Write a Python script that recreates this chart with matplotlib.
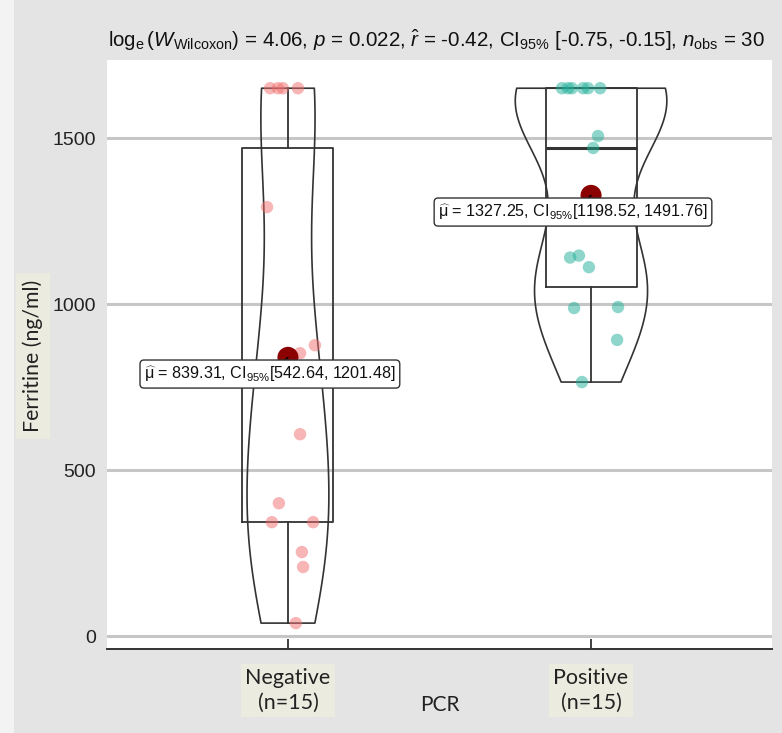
#!/usr/bin/env python3
# -*- coding: utf-8 -*-
"""
Ferritine by PCR result: violin + box + jittered points, ggstatsplot style.
"""

import matplotlib
matplotlib.use("Agg")
import matplotlib.pyplot as plt
import matplotlib.patches as mpatches
import numpy

# data
groups = ["Negative", "Positive"]
group_labels = ["Negative\n(n=15)", "Positive\n(n=15)"]
ferritine_negative = [1650, 1650, 1650, 1650, 1292, 876, 852, 776, 608,
                      400, 343, 343, 253, 208, 39]
ferritine_positive = [1650, 1650, 1650, 1650, 1650, 1650, 1506, 1470, 1146,
                      1140, 1111, 991, 988, 892, 765]
# horizontal jitter of each point (x units), same order as the values
jitter_negative = [-0.059, -0.033, -0.017, 0.033, -0.069, 0.089, 0.040, 0.0,
                   0.040, -0.030, -0.053, 0.083, 0.046, 0.050, 0.026]
jitter_positive = [-0.096, -0.076, -0.063, -0.026, -0.010, 0.030, 0.023, 0.007,
                   -0.040, -0.069, -0.007, 0.089, -0.056, 0.086, -0.030]
mean_text = ["839.31", "1327.25"]
mean_ci = ["542.64, 1201.48", "1198.52, 1491.76"]
yticks = [0, 500, 1000, 1500]

title = (r"$\log_{\mathrm{e}}(W_{\mathrm{Wilcoxon}})$ = 4.06, $p$ = 0.022, "
         r"$\hat{r}$ = -0.42, CI$_{95\%}$ [-0.75, -0.15], $n_{\mathrm{obs}}$ = 30")

matplotlib.rcParams.update({
    'font.family': ['Liberation Sans', 'DejaVu Sans'],
    'mathtext.fontset': 'custom',
    'mathtext.rm': 'Liberation Sans',
    'mathtext.it': 'Liberation Sans:italic',
    'mathtext.bf': 'Liberation Sans:bold',
})

LINE = '#333333'
POINT_COLORS = ['#F26D6D', '#1FAF98']
BG = '#e4e4e4'
LABEL_BG = '#ecebdf'


def nrd0(kde):
    """R's bw.nrd0 expressed as a factor of the sample sd."""
    d = numpy.asarray(kde.dataset).ravel()
    sd = numpy.std(d, ddof=1)
    q1, q3 = numpy.percentile(d, [25, 75])
    h = 0.9 * min(sd, (q3 - q1) / 1.34) * len(d) ** -0.2
    return h / sd


fig = plt.figure(figsize=(7.82, 7.33), dpi=100, facecolor=BG)
fig.patches.append(mpatches.Rectangle((0, 0), 14 / 782, 1, transform=fig.transFigure,
                                      facecolor='#f3f3f3', edgecolor='none', zorder=0))
ax = fig.add_axes([107 / 782, 84 / 733, 665 / 782, 589 / 733])
ax.set_facecolor('white')

data = [ferritine_negative, ferritine_positive]
jitters = [jitter_negative, jitter_positive]
positions = [1, 2]

for y in yticks:
    ax.axhline(y, color='#c6c6c6', lw=2.2, zorder=0)

vp = ax.violinplot(data, positions=positions, widths=[0.27, 0.5],
                   showextrema=False, bw_method=nrd0, points=200)
for body in vp['bodies']:
    body.set_facecolor('none')
    body.set_edgecolor(LINE)
    body.set_linewidth(1.2)
    body.set_alpha(1)
    body.set_zorder(2)

ax.boxplot(data, positions=positions, widths=0.3, whis=1.5, showfliers=False,
           showcaps=False, manage_ticks=False,
           boxprops=dict(color=LINE, lw=1.3),
           whiskerprops=dict(color=LINE, lw=1.3),
           medianprops=dict(color=LINE, lw=2.2), zorder=2)

for i, (vals, jit) in enumerate(zip(data, jitters)):
    xs = positions[i] + numpy.asarray(jit)
    ax.scatter(xs, vals, s=80, color=POINT_COLORS[i], alpha=0.5,
               edgecolors='none', zorder=3)

for i, vals in enumerate(data):
    m = numpy.mean(vals)
    ax.scatter([positions[i]], [m], s=230, color='#8B0000', edgecolors='none', zorder=4)
    ax.annotate(r"$\widehat{\mathrm{\mu}}$ = %s, CI$_{95\%%}$[%s]" % (mean_text[i], mean_ci[i]),
                xy=(positions[i], m), xytext=(-13, -12), textcoords='offset points',
                ha='center', va='center', fontsize=11.6, color='#111111', zorder=6,
                bbox=dict(boxstyle='round,pad=0.25,rounding_size=0.25',
                          fc='white', ec=LINE, lw=1),
                arrowprops=dict(arrowstyle='-', color='black', lw=1,
                                shrinkA=0, shrinkB=0))

ax.set_xlim(0.403, 2.597)
ax.set_ylim(-39, 1735)
ax.set_yticks(yticks)
ax.tick_params(axis='y', length=0, pad=8, labelsize=14, labelcolor='#222222')
ax.set_xticks(positions)
ax.set_xticklabels(group_labels, fontfamily='Lato', fontsize=15.5, color='#222222',
                   linespacing=1.25)
ax.tick_params(axis='x', direction='in', length=7, width=1.3, color=LINE, pad=14)
for lab in ax.get_xticklabels():
    lab.set_bbox(dict(facecolor=LABEL_BG, edgecolor='none', pad=3))

for side in ['left', 'right', 'top']:
    ax.spines[side].set_visible(False)
ax.spines['bottom'].set_color(LINE)
ax.spines['bottom'].set_linewidth(1.4)

fig.text(436 / 782, 1 - 40 / 733, title, ha='center', va='center', fontsize=14.8,
         color='#111111')
fig.text(33 / 782, 1 - 356 / 733, 'Ferritine (ng/ml)', rotation=90, ha='center',
         va='center', fontfamily='Lato', fontsize=15.3, color='#222222',
         bbox=dict(facecolor=LABEL_BG, edgecolor='none', pad=5))
fig.text(440 / 782, 1 - 705 / 733, 'PCR', ha='center', va='center',
         fontfamily='Lato', fontsize=15, color='#222222')

plt.savefig('out.png', dpi=100, facecolor=BG)
